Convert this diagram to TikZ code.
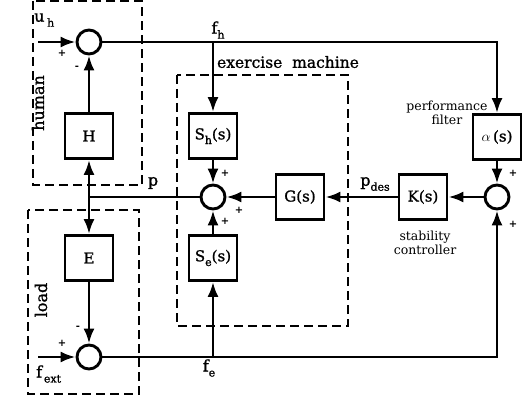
\documentclass[tikz,border=0pt]{standalone}
\usepackage{fontspec}
\setmainfont{DejaVu Serif}
\newfontfamily\heavy{DejaVu Serif}[FakeBold=1.2]
\usetikzlibrary{arrows.meta}
\newcommand\lowsub[1]{\raisebox{-0.6ex}{\fontsize{11}{11}\selectfont #1}}
\begin{document}
\begin{tikzpicture}[x=1pt,y=-1pt,
 blk/.style={draw, line width=2.9pt, minimum width=48pt, minimum height=45pt, inner sep=0pt, font=\heavy\fontsize{15}{15}\selectfont},
 sumj/.style={draw, circle, line width=2.9pt, minimum size=24pt, inner sep=0pt},
 sig/.style={line width=2.7pt},
 arr/.style={sig, -{Latex[length=15pt,width=11pt]}},
 grp/.style={line width=2.6pt, dash pattern=on 9pt off 5pt},
 lbl/.style={font=\heavy\fontsize{16}{16}\selectfont, inner sep=0pt},
 sgn/.style={font=\fontsize{10}{10}\selectfont\bfseries, inner sep=0pt},
 note/.style={font=\fontsize{12.5}{14}\selectfont, align=center, inner sep=0pt}]
\useasboundingbox (0,0) rectangle (523,396);

% group boxes
\draw[grp] (33,1) rectangle (142,185);
\draw[grp] (177,75) rectangle (348,326);
\draw[grp] (28,210) rectangle (139,394);

% blocks
\node[sumj] (sH) at (89,42) {};
\node[blk] (H) at (89,136) {H};
\node[blk] (E) at (89,258) {E};
\node[sumj] (sL) at (89,357) {};
\node[blk] (Sh) at (213,136) {S\lowsub{h}(s)};
\node[sumj] (sC) at (213,197) {};
\node[blk] (Se) at (213,258) {S\lowsub{e}(s)};
\node[blk] (G) at (300,197) {G(s)};
\node[blk] (K) at (423,197) {K(s)};
\node[sumj] (sR) at (497,197) {};
\node[blk] (A) at (497,137) {$\alpha$\,(s)};

% coordinates
\coordinate (uin) at (38,42);
\coordinate (fin) at (38,357);
\coordinate (fhb) at (213,42);
\coordinate (fhc) at (497,42);
\coordinate (pj) at (89,197);
\coordinate (feb) at (213,357);
\coordinate (fec) at (497,357);

% connectors
\draw[arr] (uin) -- (sH.west);
\draw[sig] (sH.east) -- (fhb);
\draw[arr] (fhb) -- (fhc) -- (A.north);
\draw[arr] (fhb) -- (Sh.north);
\draw[arr] (H.north) -- (sH.south);
\draw[arr] (sC.west) -- (pj) -- (H.south);
\draw[arr] (pj) -- (E.north);
\draw[arr] (E.south) -- (sL.north);
\draw[arr] (fin) -- (sL.west);
\draw[sig] (sL.east) -- (feb);
\draw[arr] (feb) -- (fec) -- (sR.south);
\draw[arr] (feb) -- (Se.south);
\draw[arr] (A.south) -- (sR.north);
\draw[arr] (sR.west) -- (K.east);
\draw[arr] (K.west) -- (G.east);
\draw[arr] (G.west) -- (sC.east);
\draw[arr] (Sh.south) -- (sC.north);
\draw[arr] (Se.north) -- (sC.south);

% labels
\node[lbl, anchor=west] (luh) at (34,20) {u\,\lowsub{h}};
\node[lbl] (lfh) at (218,30) {f\lowsub{h}};
\node[lbl, font=\heavy\fontsize{15.5}{15.5}\selectfont] (lex) at (288,62) {exercise\ \ machine};
\node[lbl, rotate=90] (lhu) at (38,103) {human};
\node[lbl, rotate=90] (llo) at (41,300) {load};
\node[lbl] (lp) at (153,183) {p};
\node[lbl] (lpd) at (375,184) {p\lowsub{des}};
\node[lbl, anchor=west] (lfx) at (36,374) {f\lowsub{\,ext}};
\node[lbl] (lfe) at (209,368) {f\lowsub{e}};
\node[note] (lpf) at (447,113) {performance\\filter};
\node[note] (lsc) at (425,243) {stability\\controller};

% signs
\node[sgn] at (62,53) {+};
\node[sgn] at (77,68) {-};
\node[sgn] at (225,173) {+};
\node[sgn] at (239,210) {+};
\node[sgn] at (225,221) {+};
\node[sgn] at (513,173) {+};
\node[sgn] at (513,224) {+};
\node[sgn] at (78,328) {-};
\node[sgn] at (62,343) {+};
\end{tikzpicture}
\end{document}
